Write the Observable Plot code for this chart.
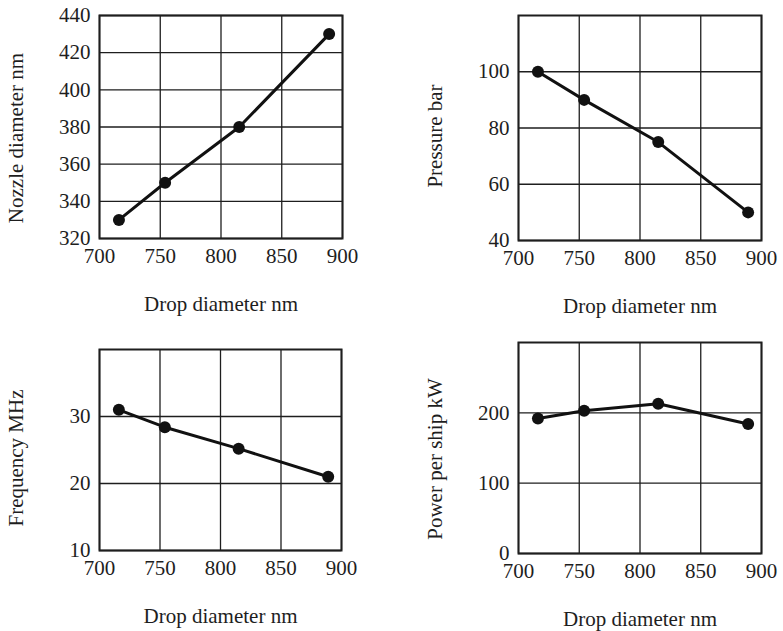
<!DOCTYPE html>
<html>
<head>
<meta charset="utf-8">
<script src="https://cdn.jsdelivr.net/npm/d3@7"></script>
<script src="https://cdn.jsdelivr.net/npm/@observablehq/plot@0.6"></script>
<style>
  html, body { margin: 0; padding: 0; background: #fff; }
  #wrap { position: relative; width: 783px; height: 631px; overflow: hidden; background: #fff; }
  .panel { position: absolute; }
</style>
</head>
<body>
<div id="wrap"></div>
<script>
// ---- data ----
const dropDiameter = [716, 754, 815, 889];
const nozzleDiameter = [330, 350, 380, 430];
const pressure = [100, 90, 75, 50];
const frequency = [31, 28.4, 25.2, 21];
const powerPerShip = [192, 203, 213, 184];

const xTicks = [700, 750, 800, 850, 900];
const xLabel = "Drop diameter nm";

const panels = [
  {label: "Nozzle diameter nm", values: nozzleDiameter, domain: [320, 440], ticks: [320, 340, 360, 380, 400, 420, 440]},
  {label: "Pressure bar", values: pressure, domain: [40, 120], ticks: [40, 60, 80, 100]},
  {label: "Frequency MHz", values: frequency, domain: [10, 40], ticks: [10, 20, 30]},
  {label: "Power per ship kW", values: powerPerShip, domain: [0, 300], ticks: [0, 100, 200]}
];

// layout (container placement + margins + label nudges)
const layout = [
  {left: 0,   top: 0,   width: 380, height: 320, mt: 15, mb: 82, ml: 99,  mr: 38, ldy: 11},
  {left: 390, top: 0,   width: 393, height: 320, mt: 15, mb: 80, ml: 128, mr: 22, ldy: 8},
  {left: 0,   top: 320, width: 380, height: 311, mt: 29, mb: 81, ml: 99,  mr: 39, ldy: 8},
  {left: 390, top: 320, width: 393, height: 311, mt: 22, mb: 78, ml: 128, mr: 22, ldy: 11}
];

const ink = "#1e1e1e";
const wrap = document.getElementById("wrap");

panels.forEach((p, i) => {
  const L = layout[i];
  const data = dropDiameter.map((d, j) => ({x: d, y: p.values[j]}));
  const chart = Plot.plot({
    width: L.width,
    height: L.height,
    marginTop: L.mt,
    marginBottom: L.mb,
    marginLeft: L.ml,
    marginRight: L.mr,
    style: {fontFamily: "'Liberation Serif', 'Times New Roman', serif", fontSize: "21px", color: ink, background: "transparent", overflow: "visible"},
    x: {domain: [700, 900]},
    y: {domain: p.domain},
    marks: [
      Plot.gridX(xTicks, {stroke: ink, strokeOpacity: 1, strokeWidth: 1.3}),
      Plot.gridY(p.ticks, {stroke: ink, strokeOpacity: 1, strokeWidth: 1.3}),
      Plot.frame({stroke: ink, strokeWidth: 2}),
      Plot.axisX(xTicks, {tickSize: 0, tickPadding: 10, label: xLabel, labelAnchor: "center", labelOffset: 72, labelArrow: "none", fontSize: 21}),
      Plot.axisY(p.ticks, {tickSize: 0, tickPadding: 9, label: null, fontSize: 21}),
      Plot.text([p.label], {frameAnchor: "left", textAnchor: "middle", rotate: -90, lineAnchor: "top", dx: -91, dy: L.ldy, fontSize: 21, fill: ink}),
      Plot.line(data, {x: "x", y: "y", stroke: "#111", strokeWidth: 3}),
      Plot.dot(data, {x: "x", y: "y", r: 6, fill: "#111", stroke: "none"})
    ]
  });
  const div = document.createElement("div");
  div.className = "panel";
  div.style.left = L.left + "px";
  div.style.top = L.top + "px";
  div.appendChild(chart);
  wrap.appendChild(div);
});
</script>
</body>
</html>
